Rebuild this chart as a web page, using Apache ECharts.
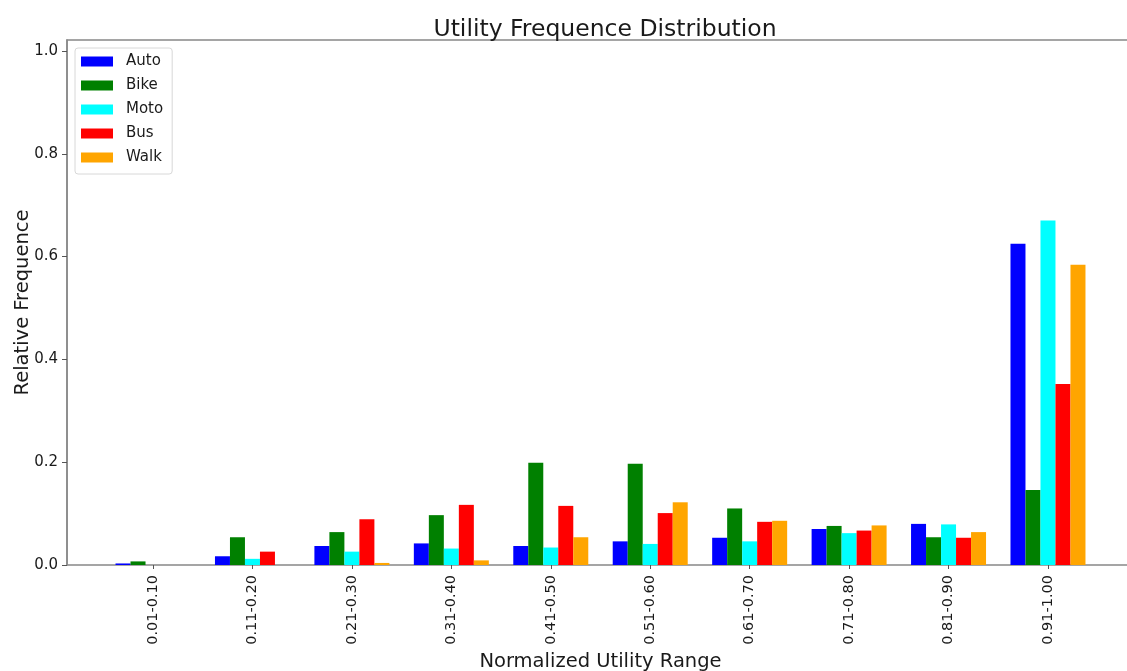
<!DOCTYPE html>
<html>
<head>
<meta charset="utf-8">
<script src="https://cdn.jsdelivr.net/npm/echarts@6/dist/echarts.min.js"></script>
<style>
html,body{margin:0;padding:0;background:#fff;}
#chart{width:1127px;height:671px;}
</style>
</head>
<body>
<div id="chart"></div>
<script>
const categories = ['0.01-0.10','0.11-0.20','0.21-0.30','0.31-0.40','0.41-0.50','0.51-0.60','0.61-0.70','0.71-0.80','0.81-0.90','0.91-1.00'];
const seriesNames = ['Auto','Bike','Moto','Bus','Walk'];
const autoVals = [0.003,0.017,0.037,0.042,0.037,0.046,0.053,0.070,0.080,0.625];
const bikeVals = [0.007,0.054,0.064,0.097,0.199,0.197,0.110,0.076,0.054,0.146];
const motoVals = [0.000,0.012,0.026,0.032,0.034,0.041,0.046,0.062,0.079,0.670];
const busVals  = [0.000,0.026,0.089,0.117,0.115,0.101,0.084,0.067,0.053,0.352];
const walkVals = [0.000,0.000,0.004,0.009,0.054,0.122,0.086,0.077,0.064,0.584];
const yTicks = [0,0.2,0.4,0.6,0.8,1.0];
const colors = ['#0000ff','#008000','#00ffff','#ff0000','#ffa500'];
const yMax = 1.0214;

const allVals = [autoVals,bikeVals,motoVals,busVals,walkVals];
const font = "'DejaVu Sans', sans-serif";
const chart = echarts.init(document.getElementById('chart'));
chart.setOption({
  animation:false,
  backgroundColor:'#fff',
  textStyle:{fontFamily:font},
  title:{text:'Utility Frequence Distribution',left:600,top:13,textAlign:'center',
    textStyle:{fontFamily:font,fontSize:23.5,fontWeight:'normal',color:'#1a1a1a'}},
  legend:{orient:'vertical',left:75,top:48,padding:[6,9,9,6],itemWidth:32,itemHeight:10,itemGap:9,
    backgroundColor:'#fff',borderColor:'#d8d8d8',borderWidth:1,borderRadius:3,
    data:seriesNames.map(n=>({name:n,icon:'rect'})),
    textStyle:{fontFamily:font,fontSize:15,lineHeight:15,color:'#1a1a1a',padding:[0,0,0,8]}},
  grid:[
    {left:67,right:-7,top:40,bottom:106,outerBoundsMode:'none',containLabel:false,show:true,borderColor:'#888',borderWidth:1.5,backgroundColor:'transparent'},
    {left:103.3,right:29.3,top:40,bottom:106,outerBoundsMode:'none',containLabel:false}
  ],
  xAxis:[
    {gridIndex:0,type:'value',show:false,min:0,max:1},
    {gridIndex:1,type:'category',data:categories,
      axisLine:{show:false},
      axisTick:{show:true,alignWithLabel:true,length:4,lineStyle:{color:'#555'}},
      axisLabel:{rotate:90,fontFamily:font,fontSize:14.5,margin:10,color:'#1a1a1a',hideOverlap:false},
      name:'Normalized Utility Range',nameLocation:'middle',nameGap:87,nameMoveOverlap:false,
      nameTextStyle:{fontFamily:font,fontSize:19.5,color:'#1a1a1a'}}
  ],
  yAxis:[
    {gridIndex:0,type:'value',min:0,max:yMax,interval:0.2,
      axisLine:{show:true,lineStyle:{color:'#888',width:1.5}},
      axisTick:{show:true,length:5,customValues:yTicks,lineStyle:{color:'#555'}},
      axisLabel:{customValues:yTicks,formatter:v=>v.toFixed(1),fontFamily:font,fontSize:15,margin:9,color:'#1a1a1a'},
      splitLine:{show:false},
      name:'Relative Frequence',nameLocation:'middle',nameGap:34,nameMoveOverlap:false,
      nameTextStyle:{fontFamily:font,fontSize:19.5,color:'#1a1a1a'}},
    {gridIndex:1,type:'value',min:0,max:yMax,show:false,splitLine:{show:false}}
  ],
  series:seriesNames.map((n,i)=>({
    name:n,type:'bar',xAxisIndex:1,yAxisIndex:1,data:allVals[i],
    barWidth:15,barGap:'0%',itemStyle:{color:colors[i]}
  }))
});
</script>
</body>
</html>
